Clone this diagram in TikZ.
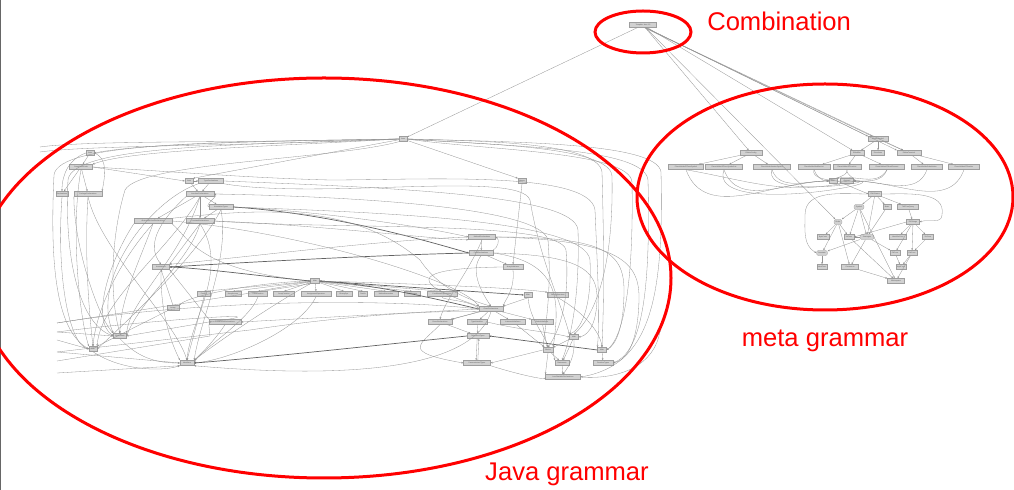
\documentclass[tikz,border=0pt]{standalone}
\usepackage{fontspec}
\setmainfont{Liberation Sans}
\usetikzlibrary{arrows.meta}
\begin{document}
\begin{tikzpicture}[x=0.025cm,y=-0.025cm,
 nd/.style={draw=black!38, fill=black!18, line width=0.2pt, inner sep=0pt, minimum height=0.13cm, text=black!65, font=\fontsize{1.3}{1.5}\selectfont},
 wd/.style={minimum width=#1*0.025cm},
 el/.style={nd, rounded corners=1.6pt},
 e/.style={draw=black!42, line width=0.22pt, -{Stealth[length=1.5pt,width=1.2pt]}},
 hv/.style={e, line width=0.5pt, draw=black!62},
 ln/.style={draw=black!42, line width=0.22pt},
 lab/.style={text=red, font=\fontsize{18.2}{20}\selectfont, inner sep=0pt},
 ring/.style={draw=red, line width=0.075cm}]
\useasboundingbox (0,0) rectangle (1014,490);
\fill[white] (0,0) rectangle (1014,490);
\fill[black!60] (0,0) rectangle (1.5,490);

% ---------------- nodes: combination
\node[nd,wd=27] (c0) at (643,25) {Template Java 1.5};

% ---------------- nodes: meta grammar
\node[nd,wd=20] (m1) at (878,139) {EBasicSymbol};
\node[nd,wd=22] (m2) at (751,153) {EMetaConfig};
\node[nd,wd=14] (m3) at (857,153) {EModifier};
\node[nd,wd=13] (m4) at (878,153) {Directives};
\node[nd,wd=24] (m5) at (909,153) {EMetaTerminal};
\node[nd,wd=35] (r1) at (686,167) {PlaceHolderOfTermSymbol};
\node[nd,wd=37] (r2) at (724,167) {PlaceHolderOfTermSymbolList};
\node[nd,wd=37] (r3) at (772,167) {PlaceHolderIteratorSymbol};
\node[nd,wd=32] (r4) at (814,167) {PlaceHolderModifierList};
\node[nd,wd=28] (r5) at (847,167) {PlaceHolderOfTermList};
\node[nd,wd=35] (r6) at (887,167) {PlaceHolderOfTermElement};
\node[nd,wd=31] (r7) at (927,167) {PlaceHolderSubstitution};
\node[nd,wd=31] (r8) at (964,167) {PlaceHolderOfTermIter};
\node[nd,wd=8] (m6) at (833,181) {OBJ};
\node[nd,wd=13] (m7) at (847,181) {Abstract};
\node[nd,wd=13] (m8) at (875,194) {CMLGrams};
\node[el,wd=10] (m9) at (859,207) {Symbol};
\node[nd,wd=8] (m10) at (887,207) {Basic};
\node[nd,wd=21] (m11) at (908,207) {TMLTreeQuery};
\node[el,wd=8] (m12) at (838,222) {Rules};
\node[nd,wd=13] (m13) at (913,222) {EXStrings};
\node[nd,wd=12] (m14) at (823,237) {ByteConv};
\node[nd,wd=10] (m15) at (849,237) {IntConv};
\node[el,wd=14] (m16) at (867,237) {Strategies};
\node[nd,wd=17] (m17) at (898,237) {IdentifierConv};
\node[nd,wd=11] (m18) at (928,237) {StrConv};
\node[el,wd=11] (m19) at (822,253) {Annotate};
\node[nd,wd=10] (m20) at (895,253) {CtlConv};
\node[nd,wd=10] (m21) at (912,253) {ExtConv};
\node[nd,wd=10] (m22) at (822,267) {IdentConv};
\node[nd,wd=17] (m23) at (850,267) {Comments};
\node[nd,wd=10] (m24) at (901,267) {ApplConv};
\node[nd,wd=17] (m25) at (896,281) {Whitespace};

% ---------------- nodes: Java grammar
\node[nd,wd=8] (j0) at (403,139) {Java};
\node[nd,wd=8] (j1) at (90,153) {Java};
\node[nd,wd=23] (j2) at (81,167) {CompilationUnits};
\node[nd,wd=12] (j3) at (62,194) {Declarations};
\node[nd,wd=28] (j4) at (88,194) {PackageDeclarations};
\node[nd,wd=8] (j5) at (189,181) {Java};
\node[nd,wd=25] (j6) at (211,181) {TypeDeclarations};
\node[nd,wd=28] (j7) at (200,194) {InterfaceDeclarations};
\node[nd,wd=24] (j8) at (221,207) {AnnotationTypes};
\node[nd,wd=38] (j9) at (153,221) {AbstractMethodDeclarations};
\node[nd,wd=28] (j10) at (200,221) {ConstantDeclarations};
\node[nd,wd=8] (j11) at (522,181) {Names};
\node[nd,wd=27] (j12) at (482,237) {MethodDeclarations};
\node[nd,wd=24] (j13) at (481,253) {FieldDeclarations};
\node[nd,wd=20] (j14) at (513,267) {ArrayInitializers};
\node[nd,wd=17] (j15) at (161,267) {Annotations};
\node[nd,wd=9] (j16) at (315,281) {Main};
\node[nd,wd=13] (e1) at (204,294) {PostFix};
\node[nd,wd=16] (e2) at (233,294) {ArrayAccess};
\node[nd,wd=19] (e3) at (258,294) {FieldCreation};
\node[nd,wd=21] (e4) at (284,294) {ArrayCreation};
\node[nd,wd=30] (e5) at (316,294) {AssignmentOperators};
\node[nd,wd=16] (e6) at (344,294) {BinaryOps};
\node[nd,wd=9] (e7) at (363,294) {Postfix};
\node[nd,wd=24] (e8) at (386,294) {MethodInvocation};
\node[nd,wd=16] (e9) at (412,294) {FieldAccess};
\node[nd,wd=30] (e10) at (442,294) {ConditionalExpressions};
\node[nd,wd=8] (e11) at (528,295) {Main};
\node[nd,wd=21] (e12) at (558,295) {BinaryOperators};
\node[nd,wd=12] (j17) at (173,308) {Arrays};
\node[nd,wd=24] (j18) at (491,309) {ClassDeclarations};
\node[nd,wd=32] (j19) at (225,322) {ConstructorDeclarations};
\node[nd,wd=24] (j20) at (440,322) {EnumDeclarations};
\node[nd,wd=20] (j21) at (477,322) {TypeVariables};
\node[nd,wd=25] (j22) at (513,322) {InstanceInitializers};
\node[nd,wd=22] (j23) at (542,322) {StaticInitializers};
\node[nd,wd=13] (j24) at (120,336) {BlockStmts};
\node[nd,wd=22] (j25) at (478,336) {ReferenceTypes};
\node[nd,wd=9] (j26) at (574,337) {Main};
\node[nd,wd=8] (j27) at (93,349) {Main};
\node[nd,wd=10] (j28) at (548,350) {Blocks};
\node[nd,wd=9] (j29) at (602,350) {Main};
\node[nd,wd=14] (j30) at (187,363) {Identifiers};
\node[nd,wd=27] (j31) at (477,363) {ParameterizedTypes};
\node[nd,wd=14] (j32) at (562,363) {Statements};
\node[nd,wd=20] (j33) at (603,363) {PrimitiveTypes};
\node[nd,wd=35] (j34) at (563,377) {LocalVariableDeclarations};

% free ends at the clipped left side
\coordinate (L1) at (57,323);
\coordinate (L2) at (57,332);
\coordinate (L3) at (57,340);
\coordinate (L4) at (57,352);
\coordinate (L5) at (57,361);
\coordinate (L6) at (57,373);
\coordinate (T1) at (40,152);
\coordinate (T2) at (40,147);

% ---------------- combination edges
\draw[e] (c0) -- (j0);
\draw[e] (c0) -- (m2);
\draw[e] (c0) -- (m12);
\draw[e] (c0) -- (m3);
\draw[e] ([xshift=1pt]c0.south) -- (m1);
\draw[e] ([xshift=2pt]c0.south) -- (m1.north west);
\draw[e] ([xshift=1.5pt]c0.south) -- (m5);
\draw[e] ([xshift=2.2pt]c0.south) -- (m5.north west);

% ---------------- meta edges
\foreach \a/\b in {m1/m3,m1/m4,m1/m5,m2/r1,m2/r2,m2/r3,m3/r4,m3/r5,m3/r6,m5/r7,m5/r8,
  m8/m9,m8/m10,m8/m11,m8/m16,m9/m12,m9/m15,m9/m16,m10/m16,m11/m13,
  m12/m14,m12/m15,m12/m19,m13/m17,m13/m18,m13/m20,m13/m21,
  m16/m19,m16/m20,m16/m23,m16/m15,m18/m21,m19/m22,m21/m24,m20/m24,m21/m25,m23/m25,m12/m23,m9/m25,m15/m25}
  \draw[e] (\a) -- (\b);
\foreach \a in {r1,r2,r3,r4,r5}
  \draw[e] (\a.south) to[out=-70,in=180] (m6.west);
\foreach \a in {r2,r3,r4,r5,r6,r7,r8}
  \draw[e] (\a.south) to[out=-110,in=0] (m7.east);
\draw[e] (r6.south) to[out=-120,in=10] (m6.north east);
\draw[e] (r1.south) to[out=-10,in=190] (m7.south west);
\draw[e] (m6.east) -- (m8.west);
\draw[e] (m8.west) to[out=180,in=90] (805,215) to[out=-90,in=150] (m19.west);
\draw[e] (m8.east) to[out=0,in=80] (942,215) to[out=-90,in=20] (m13.east);
\draw[e] (m13.west) -- (m15.east);

% ---------------- Java: top region
\draw[e] (j0.west) .. controls (260,141) and (140,144) .. (j1.east);
\draw[ln] (j0.west) .. controls (250,143) and (90,140) .. (T2);
\draw[ln] (j0.west) .. controls (250,146) and (90,145) .. (T1);
\draw[e] (j0.west) .. controls (220,142) and (58,142) .. (54,175) .. controls (50,260) and (55,330) .. (j27.west);
\draw[e] (j0.west) .. controls (240,145) and (72,145) .. (68,180) .. controls (64,260) and (80,325) .. (j24.west);
\draw[e] (j0.west) .. controls (260,147) and (130,150) .. (j2.north east);
\draw[e] (j0) -- (j5.north east);
\draw[e] (j0) -- (j11.north west);
\draw[e] (j0.east) .. controls (470,141) and (598,141) .. (602,172) .. controls (605,280) and (603,320) .. (j29.north);
\draw[e] (j0.east) .. controls (470,144) and (610,145) .. (612,176) .. controls (614,280) and (590,320) .. (j26.north);
\draw[e] (j0.east) .. controls (520,142) and (657,143) .. (661,172) .. controls (664,300) and (650,365) .. (j34.east);
\draw[e] (j0.east) .. controls (500,146) and (645,147) .. (648,180) .. controls (651,300) and (640,352) .. (j33.east);
\draw[e] (j0.east) .. controls (480,150) and (630,151) .. (632,182) .. controls (634,300) and (620,340) .. (j29.east);
\draw[e] (j0.south west) .. controls (330,160) and (140,162) .. (125,190) .. controls (110,240) and (110,300) .. (j24.north);

% ---------------- Java: left cluster
\draw[e] (j1) -- (j2);
\draw[e] (j1.west) to[out=200,in=90] (j3.north);
\draw[e] (j1.east) to[out=-20,in=80] (j4.north east);
\draw[e] (j2) -- (j3);
\draw[e] (j2) -- (j4);
\draw[e] (j2.east) -- (j5.west);
\draw[e] (j3.south) .. controls (56,280) and (70,345) .. (j27.west);
\draw[e] (j4.south) .. controls (100,250) and (175,320) .. (j30.north);
\draw[e] (j4.south west) .. controls (74,250) and (100,320) .. (j24.north west);
\draw[e] (j4.south) .. controls (84,260) and (90,320) .. (j27.north);
\draw[e] (j5) -- (j7);
\draw[e] (j5) -- (j6);
\draw[e] (j6) -- (j7);
\draw[e] (j7) -- (j9);
\draw[e] (j7) -- (j10);
\draw[e] (j7) -- (j8);
\draw[e] (j8.west) to[out=160,in=-10] (j7.east);
\draw[e] (j8) -- (j10);
\draw[e] (j7.south west) .. controls (150,230) and (150,250) .. (j15.north);
\draw[e] (j7.south) .. controls (180,260) and (130,300) .. (j24.north east);
\draw[e] (j7.south) .. controls (170,250) and (100,300) .. (j27.north east);
\draw[e] (j9.south) .. controls (140,260) and (120,300) .. (j24.north);
\draw[e] (j9.south) .. controls (120,260) and (96,310) .. (j27.north);
\draw[e] (j10.south) .. controls (190,260) and (140,300) .. (j24.east);
\draw[e] (j10.south) -- (j15.north east);
\draw[e] (j10.south) .. controls (230,270) and (190,320) .. (j30.north);
\draw[e] (j8.south) .. controls (230,260) and (200,320) .. (j30.north east);
\draw[e] (j8.south) .. controls (200,250) and (150,300) .. (j27.east);
\draw[e] (j9.south east) .. controls (190,240) and (200,270) .. (j16.west);
\draw[e] (j6.south west) .. controls (150,200) and (90,280) .. (j24.north west);
\draw[e] (j2.south) .. controls (70,230) and (80,320) .. (j27.north west);
\draw[e] (j9.south west) .. controls (110,260) and (90,320) .. (j24.west);

% ---------------- Java: long lines from left cluster to right
\draw[e] (j6.east) .. controls (400,188) and (575,195) .. (578,230) .. controls (580,300) and (570,340) .. (j32.north);
\draw[e] (j8.east) .. controls (330,212) and (430,228) .. (j12.west);
\draw[hv] (j8.east) .. controls (340,214) and (440,245) .. (j13.west);
\draw[e] (j8.east) .. controls (360,212) and (585,218) .. (590,260) .. controls (592,310) and (580,330) .. (j26.north west);
\draw[e] (j10.east) .. controls (320,225) and (440,240) .. (j12.south west);
\draw[e] (j9.east) .. controls (300,232) and (460,280) .. (j18.north west);
\draw[e] (j10.east) .. controls (340,230) and (560,220) .. (566,250) .. controls (570,300) and (560,330) .. (j28.north);
\draw[e] (j6.south east) .. controls (320,200) and (520,170) .. (530,200) .. controls (540,260) and (560,300) .. (j26.north west);
\draw[e] (j7.east) .. controls (330,196) and (540,205) .. (548,240) .. controls (552,290) and (545,330) .. (j28.north west);
\draw[e] (j2.east) .. controls (180,172) and (250,178) .. (330,180) .. controls (420,180) and (590,170) .. (595,210) .. controls (598,280) and (600,320) .. (j29.north west);
\draw[e] (j9.north east) .. controls (250,210) and (350,200) .. (420,260) .. controls (440,290) and (470,300) .. (j18.north);

% ---------------- Java: middle
\draw[e] (j11.south) -- (j14.north);
\draw[e] (j12) -- (j13);
\draw[e] (j13.north east) to[out=30,in=-30] (j12.east);
\draw[e] (j13) -- (j14);
\draw[hv] (j13.west) .. controls (380,255) and (250,262) .. (j15.east);
\draw[e] (j12.west) .. controls (380,240) and (240,258) .. (j15.north east);
\draw[e] (j14.west) .. controls (420,268) and (400,280) .. (j18.north west);
\draw[e] (j13.south) .. controls (470,270) and (480,290) .. (j18.north);
\draw[e] (j12.east) .. controls (600,237) and (624,250) .. (624,290) .. controls (624,330) and (615,345) .. (j29.east);
\draw[e] (j13.east) .. controls (580,255) and (598,270) .. (597,300) .. controls (596,330) and (585,336) .. (j26.east);
\draw[e] (j12.east) .. controls (620,240) and (640,262) .. (639,300) .. controls (638,340) and (628,360) .. (j33.east);
\draw[e] (j13.east) .. controls (560,262) and (560,300) .. (j28.north east);
\draw[e] (j14.south) .. controls (515,290) and (505,300) .. (j18.north east);

% hub
\foreach \t in {e1,e2,e3,e4,e5,e6,e7,e8,e9,e10}
  \draw[e] (j16) -- (\t.north);
\draw[hv] (j16.west) .. controls (260,276) and (200,268) .. (j15.east);
\draw[e] (j16.west) .. controls (260,282) and (190,295) .. (j17.north east);
\draw[e] (j16.south west) .. controls (280,300) and (220,340) .. (j30.north east);
\draw[hv] (j18.west) .. controls (440,300) and (380,285) .. (j16.east);
\draw[hv] (j16.east) -- (e11.west);
\draw[e] (j16.east) .. controls (420,284) and (520,288) .. (e12.north west);
\draw[e] (L1) -- (j16.south west);
\draw[e] (e11.south) -- (j18.north east);
\draw[e] (e12.south) .. controls (580,310) and (600,330) .. (j29.north);
\draw[e] (e11.south) .. controls (530,320) and (545,335) .. (j28.north);
\draw[e] (e10.south) .. controls (440,300) and (470,300) .. (j18.west);
\draw[e] (e1.south) -- (j30.north);
\draw[e] (e3.south) .. controls (250,320) and (200,350) .. (j30.east);
\draw[e] (e5.south) .. controls (300,330) and (230,360) .. (j30.east);

% lower left
\draw[e] (j17) -- (j27.north east);
\draw[e] (j17.north) -- (j15.south);
\draw[e] (j19.west) -- (j24.east);
\draw[e] (j19.north west) -- (j15.south east);
\draw[e] (j19.south) .. controls (215,340) and (200,355) .. (j30.north east);
\draw[e] (j15.south) .. controls (160,320) and (175,350) .. (j30.north west);
\draw[e] (L2) -- (j24.west);
\draw[e] (L3) -- (j27.west);
\draw[e] (L4) -- (j30.west);
\draw[e] (L6) -- (j30.south west);
\draw[ln] (L5) -- (210,336) -- (j19.south west);
\draw[e] (L1) .. controls (200,300) and (380,298) .. (j18.west);
\draw[ln] (L4) -- (250,330) .. controls (330,318) and (420,310) .. (j18.south west);
\draw[e] (L2) .. controls (150,320) and (300,310) .. (j19.west);
\draw[e] (j24.south) .. controls (140,360) and (160,363) .. (j30.west);
\draw[e] (j27.south) .. controls (120,370) and (160,372) .. (j30.south west);

% right lower
\draw[e] (j18) -- (j20);
\draw[e] (j18.south west) -- (j20.north east);
\draw[e] (j18) -- (j21);
\draw[e] (j18) -- (j22);
\draw[e] (j18) -- (j23);
\draw[e] (j18.west) -- (j19.east);
\draw[e] (j21) -- (j25);
\draw[e] (j20) -- (j25);
\draw[e] ([xshift=-0.6pt]j25.south) -- ([xshift=-0.6pt]j31.north);
\draw[e] ([xshift=0.6pt]j31.north) -- ([xshift=0.6pt]j25.south);
\draw[hv] (j29.west) -- (j25.east);
\draw[e] (j26) -- (j28);
\draw[e] (j26) -- (j32);
\draw[e] (j26.south) .. controls (575,355) and (570,365) .. (j34.north);
\draw[e] (j28) -- (j32);
\draw[e] (j28.south east) -- (j32.north west);
\draw[e] (j28.south) -- (j34.north west);
\draw[e] (j32) -- (j34);
\draw[e] (j29) -- (j33);
\draw[e] (j23) -- (j28);
\draw[e] (j22) -- (j28);
\draw[e] (j28.west) -- (j31.east);
\draw[e] (j21.east) .. controls (520,330) and (550,332) .. (j26.west);
\draw[hv] (j25.west) .. controls (380,345) and (260,358) .. (j30.east);
\draw[e] (j18.south) .. controls (470,380) and (300,375) .. (j30.south east);
\draw[e] (j34.east) .. controls (620,380) and (655,365) .. (660,330);
\draw[e] (j20.south) .. controls (420,345) and (400,352) .. (j31.west);
\draw[e] (j31.south east) .. controls (520,375) and (545,380) .. (j34.west);
\draw[e] (j12.south) .. controls (470,270) and (445,300) .. (j20.north);

% ---------------- red annotation
\draw[ring] (643,32) ellipse [x radius=48, y radius=21];
\draw[ring] (324,278) ellipse [x radius=347, y radius=200];
\draw[ring] (825,197) ellipse [x radius=188, y radius=113];
\node[lab,anchor=west] (tc) at (707,21) {Combination};
\node[lab] (tm) at (825,341) {meta grammar};
\node[lab] (tj) at (567,474) {Java grammar};
\end{tikzpicture}
\end{document}
